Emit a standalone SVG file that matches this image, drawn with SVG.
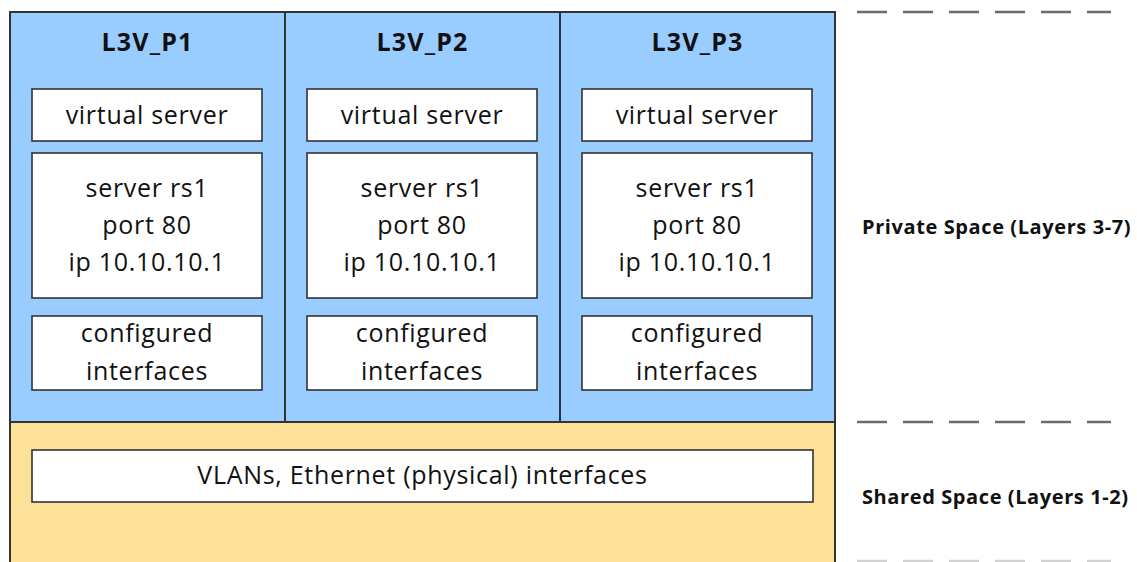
<svg xmlns="http://www.w3.org/2000/svg" width="1137" height="562" viewBox="0 0 1137 562">
<style>
.panel{stroke:#333;stroke-width:2}
.box{fill:#fff;stroke:#333;stroke-width:1.6}
.t{font-family:"Open Sans","Liberation Sans",Arial,sans-serif;font-size:25px;letter-spacing:0.7px;fill:#111;text-anchor:middle}
.h{font-family:"Open Sans","Liberation Sans",Arial,sans-serif;font-size:25px;letter-spacing:1.2px;font-weight:bold;fill:#111;text-anchor:middle}
.s{font-family:"Open Sans","Liberation Sans",Arial,sans-serif;font-size:20px;letter-spacing:0.6px;font-weight:bold;fill:#111}
.dash{stroke:#6b6b6b;stroke-width:2.5;stroke-dasharray:30 16;fill:none}
</style>
<rect width="1137" height="562" fill="#fff"/>
<g id="shared">
<rect class="panel" x="10" y="422" width="825" height="150" fill="#FEE198"/>
<rect class="box" x="32" y="450" width="781" height="52"/>
<text class="t" x="422.5" y="484">VLANs, Ethernet (physical) interfaces</text>
</g>
<g id="p1">
<rect class="panel" x="10" y="12" width="275" height="410" fill="#99CCFF"/>
<text class="h" x="147.5" y="51">L3V_P1</text>
<rect class="box" x="32" y="89" width="230" height="52"/>
<text class="t" x="147" y="124">virtual server</text>
<rect class="box" x="32" y="153" width="230" height="145"/>
<text class="t" x="147" y="197">server rs1</text>
<text class="t" x="147" y="234">port 80</text>
<text class="t" x="147" y="271">ip 10.10.10.1</text>
<rect class="box" x="32" y="316" width="230" height="74"/>
<text class="t" x="147" y="342">configured</text>
<text class="t" x="147" y="380">interfaces</text>
</g>
<g id="p2">
<rect class="panel" x="285" y="12" width="275" height="410" fill="#99CCFF"/>
<text class="h" x="422.5" y="51">L3V_P2</text>
<rect class="box" x="307" y="89" width="230" height="52"/>
<text class="t" x="422" y="124">virtual server</text>
<rect class="box" x="307" y="153" width="230" height="145"/>
<text class="t" x="422" y="197">server rs1</text>
<text class="t" x="422" y="234">port 80</text>
<text class="t" x="422" y="271">ip 10.10.10.1</text>
<rect class="box" x="307" y="316" width="230" height="74"/>
<text class="t" x="422" y="342">configured</text>
<text class="t" x="422" y="380">interfaces</text>
</g>
<g id="p3">
<rect class="panel" x="560" y="12" width="275" height="410" fill="#99CCFF"/>
<text class="h" x="697.5" y="51">L3V_P3</text>
<rect class="box" x="582" y="89" width="230" height="52"/>
<text class="t" x="697" y="124">virtual server</text>
<rect class="box" x="582" y="153" width="230" height="145"/>
<text class="t" x="697" y="197">server rs1</text>
<text class="t" x="697" y="234">port 80</text>
<text class="t" x="697" y="271">ip 10.10.10.1</text>
<rect class="box" x="582" y="316" width="230" height="74"/>
<text class="t" x="697" y="342">configured</text>
<text class="t" x="697" y="380">interfaces</text>
</g>
<g id="connectors">
<line class="dash" x1="857" y1="12" x2="1111" y2="12"/>
<line class="dash" x1="857" y1="422" x2="1111" y2="422"/>
<line class="dash" x1="857" y1="561" x2="1111" y2="561" stroke-opacity="0.3"/>
</g>
<g id="labels">
<text class="s" x="862" y="234">Private Space (Layers 3-7)</text>
<text class="s" x="862" y="504">Shared Space (Layers 1-2)</text>
</g>
</svg>
